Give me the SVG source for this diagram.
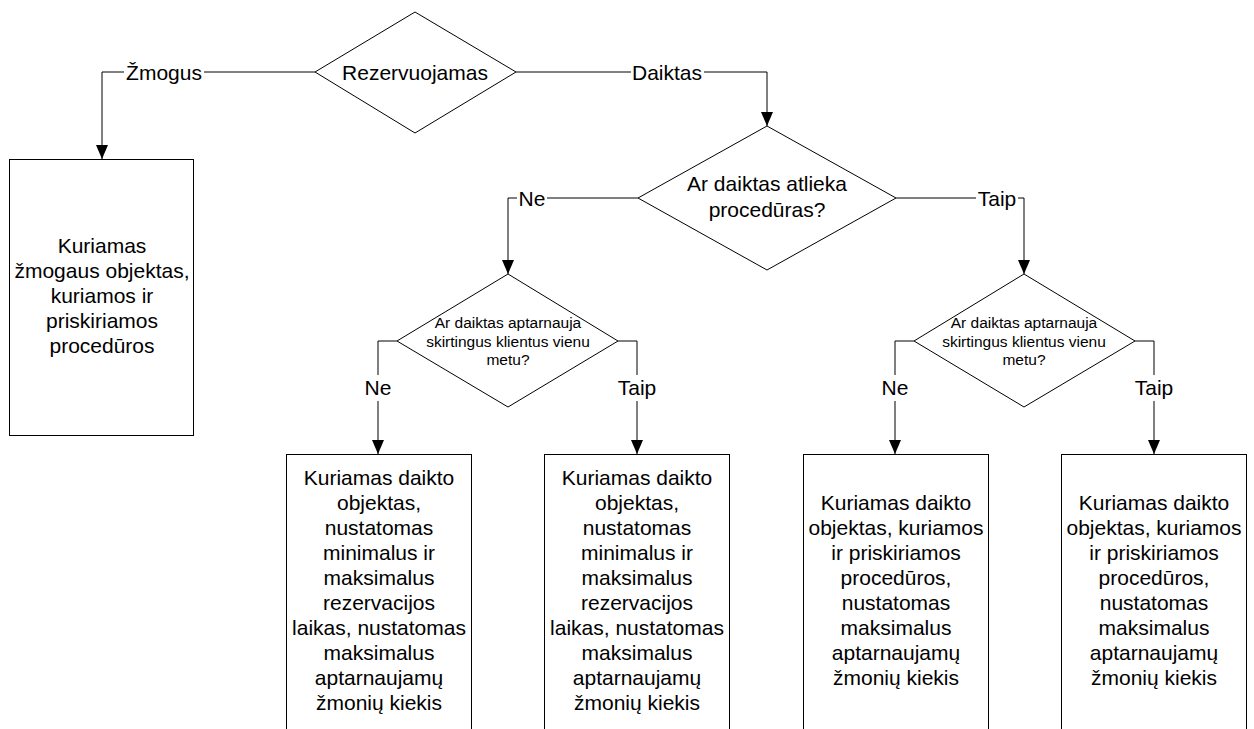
<svg xmlns="http://www.w3.org/2000/svg" width="1254" height="729" viewBox="0 0 1254 729">
  <style>
    .shape { fill: #ffffff; stroke: #000000; stroke-width: 1; }
    .wire { fill: none; stroke: #000000; stroke-width: 1; }
    .txt { font-family: "Liberation Sans", Arial, sans-serif; font-size: 21px; fill: #000000; text-anchor: middle; }
    .small { font-size: 15.5px; }
    .lblbg { fill: #ffffff; stroke: none; }
  </style>
  <defs>
    <marker id="arrow" markerUnits="userSpaceOnUse" markerWidth="14" markerHeight="12" refX="14" refY="6" orient="auto">
      <path d="M0,0 L14,6 L0,12 z" fill="#000000"/>
    </marker>
  </defs>
  <rect width="1254" height="729" fill="#ffffff"/>

  <!-- connectors with their branch labels -->
  <g id="connectors">
    <path class="wire" d="M315,72 H102 V159" marker-end="url(#arrow)"/>
    <rect class="lblbg" x="124" y="60" width="80" height="24"/>
    <text class="txt" x="164" y="80">Žmogus</text>

    <path class="wire" d="M516,72 H767 V126" marker-end="url(#arrow)"/>
    <rect class="lblbg" x="631" y="60" width="73" height="24"/>
    <text class="txt" x="667" y="80">Daiktas</text>

    <path class="wire" d="M638,198 H508 V274" marker-end="url(#arrow)"/>
    <rect class="lblbg" x="517" y="186" width="30" height="24"/>
    <text class="txt" x="532" y="206">Ne</text>

    <path class="wire" d="M896,198 H1024 V274" marker-end="url(#arrow)"/>
    <rect class="lblbg" x="976" y="186" width="42" height="24"/>
    <text class="txt" x="997" y="206">Taip</text>

    <path class="wire" d="M397,341 H378 V454" marker-end="url(#arrow)"/>
    <rect class="lblbg" x="364" y="375" width="28" height="26"/>
    <text class="txt" x="378" y="395">Ne</text>

    <path class="wire" d="M618,341 H637 V454" marker-end="url(#arrow)"/>
    <rect class="lblbg" x="617" y="375" width="40" height="26"/>
    <text class="txt" x="637" y="395">Taip</text>

    <path class="wire" d="M914,341 H895 V454" marker-end="url(#arrow)"/>
    <rect class="lblbg" x="881" y="375" width="28" height="26"/>
    <text class="txt" x="895" y="395">Ne</text>

    <path class="wire" d="M1135,341 H1154 V454" marker-end="url(#arrow)"/>
    <rect class="lblbg" x="1134" y="375" width="40" height="26"/>
    <text class="txt" x="1154" y="395">Taip</text>
  </g>

  <!-- decisions -->
  <g id="rezervuojamas">
    <polygon class="shape" points="415,12 516,72 415,133 315,72"/>
    <text class="txt" x="415" y="80">Rezervuojamas</text>
  </g>

  <g id="atlieka-proceduras">
    <polygon class="shape" points="767,126 896,198 767,270 638,198"/>
    <text class="txt" x="767" y="191">Ar daiktas atlieka</text>
    <text class="txt" x="767" y="217">procedūras?</text>
  </g>

  <g id="aptarnauja-kairė">
    <polygon class="shape" points="508,274 618,341 508,407 397,341"/>
    <text class="txt small" x="508" y="328">Ar daiktas aptarnauja</text>
    <text class="txt small" x="508" y="347">skirtingus klientus vienu</text>
    <text class="txt small" x="508" y="365">metu?</text>
  </g>

  <g id="aptarnauja-dešinė">
    <polygon class="shape" points="1024,274 1135,341 1024,407 914,341"/>
    <text class="txt small" x="1024" y="328">Ar daiktas aptarnauja</text>
    <text class="txt small" x="1024" y="347">skirtingus klientus vienu</text>
    <text class="txt small" x="1024" y="365">metu?</text>
  </g>

  <!-- actions -->
  <g id="zmogaus-objektas">
    <rect class="shape" x="9.5" y="159.5" width="184" height="276"/>
    <text class="txt" x="102" y="253">Kuriamas</text>
    <text class="txt" x="102" y="278">žmogaus objektas,</text>
    <text class="txt" x="102" y="303">kuriamos ir</text>
    <text class="txt" x="102" y="328">priskiriamos</text>
    <text class="txt" x="102" y="353">procedūros</text>
  </g>

  <g id="daiktas-ne-ne">
    <rect class="shape" x="286.5" y="454.5" width="185" height="290"/>
    <text class="txt" x="379" y="485">Kuriamas daikto</text>
    <text class="txt" x="379" y="510">objektas,</text>
    <text class="txt" x="379" y="535">nustatomas</text>
    <text class="txt" x="379" y="560">minimalus ir</text>
    <text class="txt" x="379" y="585">maksimalus</text>
    <text class="txt" x="379" y="610">rezervacijos</text>
    <text class="txt" x="379" y="635">laikas, nustatomas</text>
    <text class="txt" x="379" y="660">maksimalus</text>
    <text class="txt" x="379" y="685">aptarnaujamų</text>
    <text class="txt" x="379" y="710">žmonių kiekis</text>
  </g>

  <g id="daiktas-ne-taip">
    <rect class="shape" x="544.5" y="454.5" width="185" height="290"/>
    <text class="txt" x="637" y="485">Kuriamas daikto</text>
    <text class="txt" x="637" y="510">objektas,</text>
    <text class="txt" x="637" y="535">nustatomas</text>
    <text class="txt" x="637" y="560">minimalus ir</text>
    <text class="txt" x="637" y="585">maksimalus</text>
    <text class="txt" x="637" y="610">rezervacijos</text>
    <text class="txt" x="637" y="635">laikas, nustatomas</text>
    <text class="txt" x="637" y="660">maksimalus</text>
    <text class="txt" x="637" y="685">aptarnaujamų</text>
    <text class="txt" x="637" y="710">žmonių kiekis</text>
  </g>

  <g id="daiktas-taip-ne">
    <rect class="shape" x="803.5" y="454.5" width="185" height="290"/>
    <text class="txt" x="896" y="510">Kuriamas daikto</text>
    <text class="txt" x="896" y="535">objektas, kuriamos</text>
    <text class="txt" x="896" y="560">ir priskiriamos</text>
    <text class="txt" x="896" y="585">procedūros,</text>
    <text class="txt" x="896" y="610">nustatomas</text>
    <text class="txt" x="896" y="635">maksimalus</text>
    <text class="txt" x="896" y="660">aptarnaujamų</text>
    <text class="txt" x="896" y="685">žmonių kiekis</text>
  </g>

  <g id="daiktas-taip-taip">
    <rect class="shape" x="1061.5" y="454.5" width="185" height="290"/>
    <text class="txt" x="1154" y="510">Kuriamas daikto</text>
    <text class="txt" x="1154" y="535">objektas, kuriamos</text>
    <text class="txt" x="1154" y="560">ir priskiriamos</text>
    <text class="txt" x="1154" y="585">procedūros,</text>
    <text class="txt" x="1154" y="610">nustatomas</text>
    <text class="txt" x="1154" y="635">maksimalus</text>
    <text class="txt" x="1154" y="660">aptarnaujamų</text>
    <text class="txt" x="1154" y="685">žmonių kiekis</text>
  </g>
</svg>
